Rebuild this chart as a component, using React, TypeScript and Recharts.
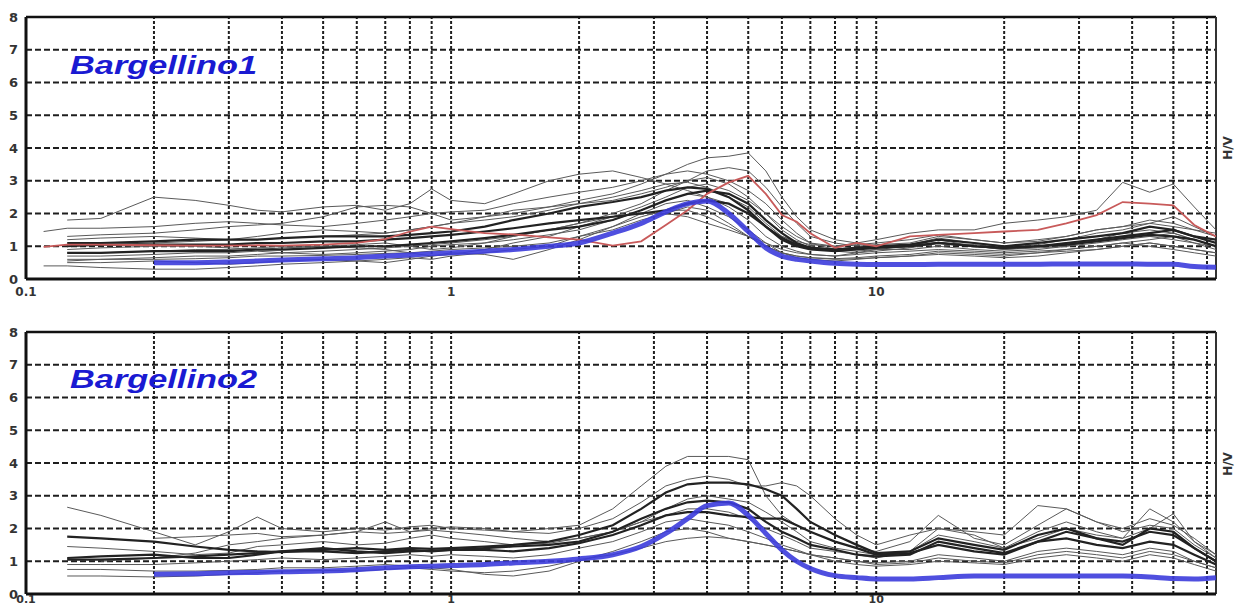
import React from "react";
import { LineChart, Line, XAxis, YAxis, ReferenceLine, ReferenceArea } from "recharts";

const FREQ = [0.11, 0.125, 0.15, 0.2, 0.25, 0.3, 0.35, 0.4, 0.5, 0.6, 0.7, 0.8, 0.9, 1.0, 1.2, 1.4, 1.7, 2.0, 2.4, 2.8, 3.2, 3.6, 4.0, 4.5, 5.0, 5.5, 6.0, 6.5, 7.0, 8, 9, 10, 12, 14, 17, 20, 24, 28, 33, 38, 44, 50, 56, 63];

const X_TICKS = [0.1, 1, 10];
const Y_TICKS = [0, 1, 2, 3, 4, 5, 6, 7, 8];
const V_GRID = [0.2, 0.3, 0.4, 0.5, 0.6, 0.7, 0.8, 0.9, 1, 2, 3, 4, 5, 6, 7, 8, 9, 10, 20, 30, 40, 50, 60];
const H_GRID = [1, 2, 3, 4, 5, 6, 7];

// ---- Panel 1 : Bargellino1 ----
const T_BLUE = [null, null, null, 0.5, 0.5, 0.52, 0.55, 0.58, 0.62, 0.65, 0.7, 0.73, 0.77, 0.8, 0.85, 0.9, 1.0, 1.1, 1.4, 1.7, 2.05, 2.3, 2.38, 2.0, 1.45, 0.95, 0.7, 0.6, 0.55, 0.48, 0.45, 0.44, 0.44, 0.45, 0.45, 0.45, 0.45, 0.46, 0.46, 0.46, 0.45, 0.45, 0.38, 0.36];
const T_RED = [0.98, 1.05, 1.05, 1.03, 1.02, 1.02, 1.03, 1.02, 1.05, 1.1, 1.22, 1.45, 1.6, 1.52, 1.4, 1.36, 1.27, 1.2, 1.02, 1.15, 1.65, 2.1, 2.6, 2.95, 3.15, 2.6, 1.95, 1.75, 1.4, 0.95, 1.1, 1.0, 1.3, 1.35, 1.4, 1.45, 1.5, 1.7, 1.95, 2.35, 2.3, 2.25, 1.65, 1.3];
const T_G1 = [null, 1.8, 1.85, 2.5, 2.4, 2.25, 2.1, 2.05, 2.2, 2.25, 2.1, 2.3, 2.75, 2.4, 2.3, 2.6, 3.0, 3.2, 3.3, 3.1, 2.9, 2.7, 2.5, 2.3, 2.0, 1.6, 1.3, 1.15, 1.05, 1.0, 1.1, 1.0, 1.05, 1.25, 1.1, 1.0, 1.05, 1.2, 1.3, 1.4, 1.3, 1.2, 1.1, 1.0];
const T_G2 = [1.45, 1.55, 1.55, 1.6, 1.7, 1.75, 1.7, 1.65, 1.6, 1.7, 1.8, 1.9, 2.0, 2.05, 2.1, 2.3, 2.5, 2.65, 2.8, 3.0, 3.2, 3.5, 3.7, 3.75, 3.85, 3.3, 2.5, 1.9, 1.5, 1.2, 1.1, 1.2, 1.4, 1.5, 1.5, 1.7, 1.8, 1.9, 2.1, 2.95, 2.65, 2.9, 2.2, 1.5];
const T_G3 = [null, 1.2, 1.25, 1.3, 1.25, 1.2, 1.2, 1.25, 1.3, 1.35, 1.4, 1.5, 1.6, 1.7, 1.8, 1.9, 2.1, 2.3, 2.5, 2.7, 2.9, 2.95, 2.8, 2.5, 2.2, 1.7, 1.3, 1.1, 0.95, 0.9, 0.95, 1.0, 1.0, 1.1, 1.05, 1.0, 1.1, 1.2, 1.4, 1.5, 1.7, 1.9, 1.6, 1.3];
const T_G4 = [null, 0.9, 0.95, 1.0, 1.0, 0.95, 0.9, 0.95, 1.0, 1.05, 1.1, 1.0, 0.9, 0.95, 1.1, 1.3, 1.5, 1.7, 2.0, 2.3, 2.7, 3.0, 3.1, 2.9, 2.5, 2.0, 1.5, 1.2, 1.0, 0.85, 0.8, 0.85, 0.95, 1.1, 1.0, 0.9, 0.95, 1.0, 1.2, 1.3, 1.4, 1.5, 1.3, 1.1];
const T_G5 = [null, 0.7, 0.7, 0.75, 0.8, 0.8, 0.85, 0.8, 0.75, 0.8, 0.85, 0.9, 1.0, 1.05, 1.1, 1.2, 1.35, 1.5, 1.8, 2.1, 2.4, 2.6, 2.5, 2.2, 1.8, 1.3, 1.0, 0.85, 0.75, 0.7, 0.75, 0.8, 0.85, 0.9, 0.85, 0.8, 0.85, 0.9, 1.0, 1.1, 1.2, 1.3, 1.1, 0.9];
const T_G6 = [null, 0.5, 0.5, 0.55, 0.5, 0.45, 0.5, 0.55, 0.6, 0.55, 0.5, 0.6, 0.7, 0.8, 0.75, 0.6, 0.9, 1.2, 1.6, 2.0, 2.3, 2.4, 2.2, 1.9, 1.5, 1.1, 0.8, 0.65, 0.6, 0.55, 0.6, 0.65, 0.7, 0.75, 0.7, 0.65, 0.7, 0.8, 0.9, 1.0, 1.1, 1.0, 0.9, 0.8];
const T_G7 = [0.4, 0.4, 0.35, 0.3, 0.3, 0.35, 0.4, 0.45, 0.5, 0.55, 0.6, 0.65, 0.6, 0.7, 0.8, 0.9, 1.0, 1.3, 1.5, 1.8, 2.0, 2.2, 2.1, 1.7, 1.3, 1.0, 0.8, 0.7, 0.65, 0.6, 0.62, 0.65, 0.7, 0.8, 0.75, 0.7, 0.8, 0.9, 1.0, 1.1, 1.0, 0.9, 0.8, 0.7];
const T_G8 = [null, 1.0, 1.05, 1.1, 1.15, 1.2, 1.3, 1.4, 1.5, 1.45, 1.4, 1.5, 1.6, 1.7, 1.9, 2.1, 2.2, 2.3, 2.4, 2.6, 2.8, 3.0, 3.3, 3.4, 3.3, 2.8, 2.2, 1.7, 1.3, 1.1, 1.0, 1.05, 1.1, 1.3, 1.2, 1.1, 1.2, 1.3, 1.5, 1.6, 1.8, 1.7, 1.5, 1.4];
const T_G9 = [null, 0.6, 0.6, 0.65, 0.7, 0.7, 0.75, 0.8, 0.85, 0.9, 0.95, 1.0, 1.05, 1.1, 1.2, 1.3, 1.5, 1.7, 1.9, 2.0, 2.0, 1.9, 1.7, 1.5, 1.3, 1.1, 0.9, 0.8, 0.75, 0.7, 0.8, 0.9, 0.9, 1.0, 0.9, 0.85, 0.9, 1.0, 1.1, 1.2, 1.3, 1.4, 1.2, 1.0];
const T_G10 = [null, 1.3, 1.35, 1.4, 1.5, 1.6, 1.65, 1.7, 1.9, 2.2, 2.25, 2.2, 2.0, 1.8, 1.9, 2.0, 2.2, 2.4, 2.6, 2.9, 3.2, 3.3, 3.2, 3.0, 2.7, 2.3, 1.8, 1.4, 1.1, 1.0, 1.05, 1.1, 1.2, 1.35, 1.2, 1.1, 1.15, 1.3, 1.5, 1.6, 1.7, 1.6, 1.5, 1.3];
const T_G11 = [null, 0.8, 0.8, 0.85, 0.9, 0.9, 0.95, 1.0, 1.0, 0.95, 0.9, 0.8, 0.7, 0.75, 0.9, 1.1, 1.3, 1.6, 1.9, 2.2, 2.5, 2.8, 2.9, 2.7, 2.4, 2.0, 1.6, 1.3, 1.1, 0.9, 0.85, 0.9, 1.0, 1.2, 1.0, 0.9, 1.0, 1.1, 1.2, 1.4, 1.5, 1.4, 1.2, 1.0];
const T_G12 = [null, 0.55, 0.6, 0.6, 0.62, 0.65, 0.7, 0.7, 0.72, 0.75, 0.78, 0.8, 0.85, 0.9, 0.95, 1.0, 1.1, 1.3, 1.6, 1.9, 2.1, 2.1, 1.9, 1.6, 1.3, 1.0, 0.8, 0.7, 0.65, 0.62, 0.65, 0.7, 0.75, 0.85, 0.8, 0.75, 0.8, 0.85, 0.9, 1.0, 1.1, 1.0, 0.9, 0.8];
const T_D1 = [null, 1.1, 1.1, 1.15, 1.2, 1.2, 1.2, 1.25, 1.3, 1.3, 1.3, 1.35, 1.4, 1.45, 1.6, 1.8, 2.0, 2.2, 2.35, 2.5, 2.7, 2.8, 2.75, 2.5, 2.1, 1.6, 1.2, 1.0, 0.9, 0.85, 0.9, 0.95, 1.0, 1.1, 1.0, 0.95, 1.0, 1.1, 1.2, 1.3, 1.4, 1.5, 1.3, 1.1];
const T_D2 = [null, 1.0, 1.05, 1.05, 1.05, 1.05, 1.1, 1.1, 1.15, 1.15, 1.2, 1.25, 1.3, 1.35, 1.45, 1.55, 1.7, 1.8, 1.9, 2.0, 2.1, 2.3, 2.4, 2.3, 2.0, 1.6, 1.25, 1.05, 0.95, 0.9, 0.95, 1.0, 1.05, 1.2, 1.1, 1.0, 1.1, 1.2, 1.3, 1.4, 1.6, 1.5, 1.3, 1.2];
const T_D3 = [null, 0.8, 0.8, 0.85, 0.85, 0.85, 0.9, 0.9, 0.95, 1.0, 1.0, 1.05, 1.1, 1.15, 1.25, 1.35, 1.5, 1.6, 1.8, 2.1, 2.4, 2.6, 2.7, 2.6, 2.3, 1.8, 1.4, 1.1, 0.95, 0.9, 0.95, 1.0, 1.0, 1.1, 1.0, 0.95, 1.0, 1.05, 1.15, 1.25, 1.35, 1.3, 1.2, 1.0];

// ---- Panel 2 : Bargellino2 ----
const B_BLUE = [null, null, null, 0.6, 0.62, 0.65, 0.66, 0.68, 0.7, 0.74, 0.8, 0.83, 0.85, 0.87, 0.9, 0.95, 1.0, 1.07, 1.2, 1.45, 1.85, 2.3, 2.7, 2.78, 2.4, 1.85, 1.35, 1.0, 0.78, 0.56, 0.5, 0.46, 0.46, 0.5, 0.55, 0.55, 0.55, 0.55, 0.55, 0.55, 0.52, 0.47, 0.46, 0.5];
const B_G1 = [null, 2.65, 2.4, 1.9, 1.5, 1.9, 2.35, 2.0, 1.9, 2.0, 1.95, 2.05, 2.1, 2.0, 1.95, 1.9, 2.0, 2.1, 2.6, 3.3, 3.9, 4.2, 4.2, 4.2, 4.1, 3.0, 2.4, 2.1, 1.9, 1.6, 1.4, 1.3, 1.6, 2.4, 1.7, 1.5, 2.1, 2.6, 2.2, 1.9, 2.1, 2.0, 1.5, 1.1];
const B_G2 = [null, 1.45, 1.4, 1.3, 1.2, 1.25, 1.45, 1.5, 1.6, 1.5, 1.55, 1.7, 1.8, 1.7, 1.6, 1.5, 1.55, 1.7, 1.9, 2.2, 2.6, 2.9, 3.0, 2.9, 2.8, 2.5, 2.2, 1.9, 1.6, 1.4, 1.3, 1.2, 1.3, 1.8, 1.6, 1.4, 1.7, 2.0, 1.8, 1.7, 2.6, 2.2, 1.6, 1.2];
const B_G3 = [null, 0.9, 0.9, 0.9, 0.95, 1.0, 1.05, 1.1, 1.05, 1.1, 1.15, 1.2, 1.15, 1.2, 1.15, 1.1, 1.2, 1.4, 1.6, 1.9, 2.2, 2.3, 2.2, 2.1, 1.9, 1.7, 1.5, 1.35, 1.2, 1.1, 1.0, 0.95, 1.0, 1.2, 1.1, 1.0, 1.3, 1.4, 1.3, 1.2, 1.4, 1.3, 1.0, 0.8];
const B_G4 = [null, 0.75, 0.75, 0.7, 0.7, 0.72, 0.75, 0.8, 0.8, 0.85, 0.9, 0.85, 0.8, 0.75, 0.6, 0.55, 0.7, 1.0, 1.3, 1.6, 1.9, 2.0, 1.9, 1.7, 1.6, 1.5, 1.4, 1.3, 1.2, 1.0, 0.9, 0.85, 0.9, 1.0, 0.95, 0.9, 1.1, 1.2, 1.1, 1.0, 1.2, 1.1, 0.9, 0.7];
const B_G5 = [null, 0.55, 0.55, 0.52, 0.55, 0.6, 0.65, 0.7, 0.72, 0.7, 0.75, 0.8, 0.75, 0.7, 0.65, 0.7, 0.85, 1.05, 1.2, 1.4, 1.6, 1.7, 1.75, 1.7, 1.6, 1.5, 1.4, 1.3, 1.2, 1.1, 1.0, 0.9, 0.95, 1.1, 1.0, 0.95, 1.2, 1.3, 1.2, 1.1, 1.3, 1.2, 1.0, 0.8];
const B_G6 = [null, null, 1.0, 1.1, 1.25, 1.5, 1.6, 1.7, 1.8, 1.9, 2.2, 1.9, 2.0, 2.05, 2.0, 1.9, 1.85, 2.0, 2.3, 2.8, 3.3, 3.5, 3.6, 3.5, 3.3, 3.3, 3.4, 3.3, 3.0, 2.3, 1.8, 1.5, 1.8, 2.0, 1.9, 1.8, 2.7, 2.6, 2.2, 2.0, 2.3, 2.1, 1.7, 1.2];
const B_G7 = [null, null, null, 1.7, 1.75, 1.8, 1.85, 1.75, 1.8, 1.9, 1.85, 1.9, 1.95, 1.9, 1.8, 1.7, 1.6, 1.7, 1.9, 2.2, 2.4, 2.6, 2.6, 2.5, 2.3, 2.0, 1.8, 1.6, 1.4, 1.3, 1.2, 1.1, 1.3, 2.0, 1.8, 1.4, 1.9, 2.2, 1.9, 1.7, 2.0, 2.45, 1.6, 1.1];
const B_D1 = [null, 1.75, 1.7, 1.6, 1.45, 1.35, 1.3, 1.28, 1.35, 1.4, 1.35, 1.4, 1.38, 1.4, 1.45, 1.5, 1.6, 1.8, 2.1, 2.6, 3.1, 3.35, 3.4, 3.4, 3.35, 3.2, 3.0, 2.6, 2.2, 1.8, 1.5, 1.25, 1.3, 1.7, 1.5, 1.35, 1.8, 2.0, 1.7, 1.6, 1.9, 1.8, 1.4, 1.0];
const B_D2 = [null, 1.1, 1.15, 1.2, 1.1, 1.1, 1.2, 1.3, 1.4, 1.3, 1.25, 1.3, 1.32, 1.35, 1.35, 1.3, 1.4, 1.55, 1.8, 2.1, 2.4, 2.5, 2.5, 2.4, 2.35, 2.3, 2.3, 2.1, 1.9, 1.6, 1.4, 1.2, 1.25, 1.5, 1.3, 1.2, 1.6, 1.7, 1.5, 1.4, 1.6, 1.5, 1.2, 0.9];
const B_D3 = [null, 1.05, 1.05, 1.1, 1.15, 1.2, 1.25, 1.3, 1.3, 1.25, 1.3, 1.35, 1.3, 1.35, 1.4, 1.45, 1.5, 1.6, 1.9, 2.3, 2.6, 2.8, 2.85, 2.8, 2.6, 2.2, 1.9, 1.7, 1.5, 1.35, 1.2, 1.15, 1.2, 1.6, 1.4, 1.25, 1.6, 1.9, 1.7, 1.5, 2.0, 1.9, 1.4, 1.0];

type S = { key: string; values: (number | null)[]; kind: "thin" | "thick" | "red" | "blue" };

const TOP_SERIES: S[] = [
  { key: "g1", values: T_G1, kind: "thin" },
  { key: "g2", values: T_G2, kind: "thin" },
  { key: "g3", values: T_G3, kind: "thin" },
  { key: "g4", values: T_G4, kind: "thin" },
  { key: "g5", values: T_G5, kind: "thin" },
  { key: "g6", values: T_G6, kind: "thin" },
  { key: "g7", values: T_G7, kind: "thin" },
  { key: "g8", values: T_G8, kind: "thin" },
  { key: "g9", values: T_G9, kind: "thin" },
  { key: "g10", values: T_G10, kind: "thin" },
  { key: "g11", values: T_G11, kind: "thin" },
  { key: "g12", values: T_G12, kind: "thin" },
  { key: "d1", values: T_D1, kind: "thick" },
  { key: "d2", values: T_D2, kind: "thick" },
  { key: "d3", values: T_D3, kind: "thick" },
  { key: "red", values: T_RED, kind: "red" },
  { key: "blue", values: T_BLUE, kind: "blue" },
];

const BOTTOM_SERIES: S[] = [
  { key: "g1", values: B_G1, kind: "thin" },
  { key: "g2", values: B_G2, kind: "thin" },
  { key: "g3", values: B_G3, kind: "thin" },
  { key: "g4", values: B_G4, kind: "thin" },
  { key: "g5", values: B_G5, kind: "thin" },
  { key: "g6", values: B_G6, kind: "thin" },
  { key: "g7", values: B_G7, kind: "thin" },
  { key: "d1", values: B_D1, kind: "thick" },
  { key: "d2", values: B_D2, kind: "thick" },
  { key: "d3", values: B_D3, kind: "thick" },
  { key: "blue", values: B_BLUE, kind: "blue" },
];

const STYLE = {
  thin: { stroke: "#5a5a5a", strokeWidth: 1, type: "linear" as const },
  thick: { stroke: "#222222", strokeWidth: 2.2, type: "linear" as const },
  red: { stroke: "#c85a5a", strokeWidth: 1.8, type: "linear" as const },
  blue: { stroke: "#3c3cdc", strokeWidth: 5, type: "monotone" as const },
};

function buildRows(series: S[]) {
  return FREQ.map((f, i) => {
    const row: Record<string, number | null> = { f };
    series.forEach((s) => {
      row[s.key] = s.values[i];
    });
    return row;
  });
}

const tickStyle = { fontSize: 12, fontWeight: 700, fill: "#333", fontFamily: "DejaVu Sans" };

function Panel({ series, compactX }: { series: S[]; compactX?: boolean }) {
  const rows = buildRows(series);
  return (
    <LineChart width={1237} height={300} data={rows} margin={{ top: 17, right: 21, left: 0, bottom: 0 }}>
      <XAxis
        dataKey="f"
        type="number"
        scale="log"
        domain={[0.1, 63]}
        ticks={X_TICKS}
        tickFormatter={(v: number) => String(v)}
        allowDataOverflow
        height={21}
        tickLine={false}
        tickSize={compactX ? 0 : 6}
        tickMargin={compactX ? 1 : 2}
        axisLine={{ stroke: "#111", strokeWidth: 3 }}
        tick={compactX ? { ...tickStyle, fontSize: 11 } : tickStyle}
        interval={0}
      />
      <YAxis
        type="number"
        domain={[0, 8]}
        ticks={Y_TICKS}
        width={26}
        tickLine={false}
        axisLine={{ stroke: "#111", strokeWidth: 3 }}
        tick={{ ...tickStyle, fontSize: 13 }}
        interval={0}
      />
      {H_GRID.map((v) => (
        <ReferenceLine key={"h" + v} y={v} stroke="#1e1e1e" strokeWidth={2} strokeDasharray="6 3" />
      ))}
      {V_GRID.map((v) => (
        <ReferenceLine key={"v" + v} x={v} stroke="#1e1e1e" strokeWidth={2} strokeDasharray="3 2" />
      ))}
      <ReferenceArea x1={20.5} x2={57} y1={6.3} y2={7.5} fill="#ffffff" fillOpacity={1} stroke="none" />
      <ReferenceLine y={8} stroke="#111" strokeWidth={2.5} />
      <ReferenceLine x={63} stroke="#333" strokeWidth={2} />
      {series.map((s) => {
        const st = STYLE[s.kind];
        return (
          <Line
            key={s.key}
            dataKey={s.key}
            type={st.type}
            stroke={st.stroke}
            strokeWidth={st.strokeWidth}
            strokeOpacity={s.kind === "blue" ? 0.9 : 1}
            dot={false}
            activeDot={false}
            connectNulls={false}
            isAnimationActive={false}
          />
        );
      })}
    </LineChart>
  );
}

export default function App() {
  return (
    <div style={{ position: "absolute", left: 0, top: 0, width: 1237, height: 605, background: "#fff", overflow: "hidden" }}>
      <div style={{ position: "absolute", left: 0, top: 0 }}>
        <Panel series={TOP_SERIES} />
      </div>
      <div style={{ position: "absolute", left: 0, top: 315 }}>
        <Panel series={BOTTOM_SERIES} compactX />
      </div>
      <svg width={1237} height={605} style={{ position: "absolute", left: 0, top: 0, pointerEvents: "none" }}>
        <text x={70} y={74} fill="#1a1ad2" fontFamily="Liberation Sans" fontWeight={700} fontStyle="italic" fontSize={25} textLength={187} lengthAdjust="spacingAndGlyphs">
          Bargellino1
        </text>
        <text x={70} y={388} fill="#1a1ad2" fontFamily="Liberation Sans" fontWeight={700} fontStyle="italic" fontSize={25} textLength={187} lengthAdjust="spacingAndGlyphs">
          Bargellino2
        </text>
        <text x={1232} y={148} fill="#333" fontFamily="DejaVu Sans" fontWeight={700} fontSize={12} textAnchor="middle" transform="rotate(-90 1232 148)">
          H/V
        </text>
        <text x={1232} y={464} fill="#333" fontFamily="DejaVu Sans" fontWeight={700} fontSize={12} textAnchor="middle" transform="rotate(-90 1232 464)">
          H/V
        </text>
      </svg>
    </div>
  );
}
